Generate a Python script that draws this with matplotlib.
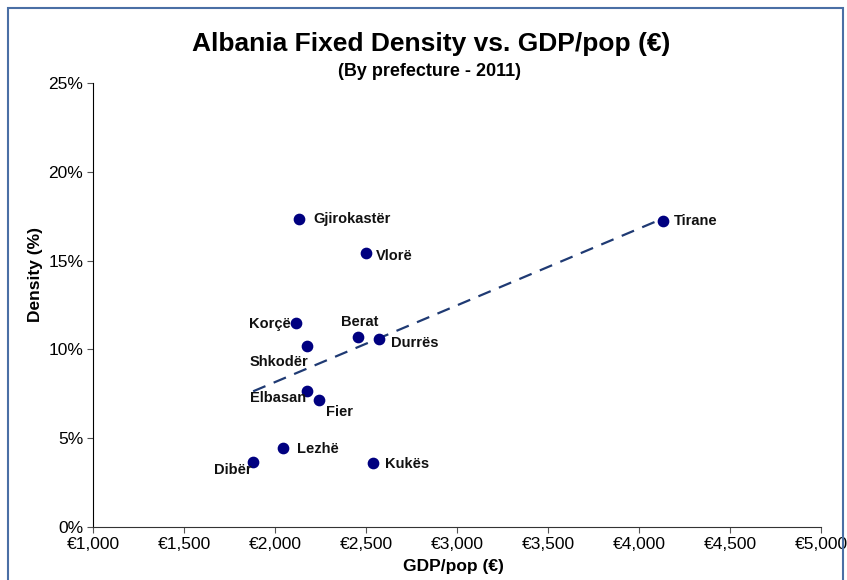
import numpy as np
import matplotlib.pyplot as plt
from matplotlib.patches import Rectangle
from matplotlib.ticker import FuncFormatter

plt.rcParams['font.family'] = ['Liberation Sans', 'DejaVu Sans']

# GDP per head (EUR) and fixed broadband density (%) by prefecture, 2011
prefectures = ["Tirane", "Gjirokastër", "Vlorë", "Korçë", "Shkodër", "Berat",
               "Durrës", "Elbasan", "Fier", "Lezhë", "Dibër", "Kukës"]
gdp_pop = [4131, 2133, 2502, 2117, 2177, 2458, 2574, 2177, 2243, 2045, 1880, 2541]
density = [17.22, 17.33, 15.42, 11.48, 10.19, 10.69, 10.58, 7.65, 7.15, 4.45, 3.66, 3.60]

# label placement (pixel offsets from each point, alignment)
label_pos = {
    "Tirane": (11, 0, "left", "center"),
    "Gjirokastër": (14, 0, "left", "center"),
    "Vlorë": (10, -3, "left", "center"),
    "Korçë": (-6, -1, "right", "center"),
    "Shkodër": (1, -16, "right", "center"),
    "Berat": (1, 15, "center", "center"),
    "Durrës": (12, -4, "left", "center"),
    "Elbasan": (-1, -7, "right", "center"),
    "Fier": (7, -12, "left", "center"),
    "Lezhë": (14, -1, "left", "center"),
    "Dibër": (-2, -8, "right", "center"),
    "Kukës": (12, -1, "left", "center"),
}

W, H = 847, 580
fig = plt.figure(figsize=(W / 100, H / 100), dpi=100)
ax = fig.add_axes([93 / W, 1 - 527 / H, 728 / W, 444 / H])

# chart frame
fig.patches.append(Rectangle((8 / W, -0.05), 835 / W, 1 - 8 / H + 0.05,
                             transform=fig.transFigure, fill=False,
                             edgecolor="#4a6fa5", linewidth=1.5))

x = np.array(gdp_pop, dtype=float)
y = np.array(density)

# linear trend over the data range
k, b = np.polyfit(x, y, 1)
xt = np.array([x.min(), x.max()])
ax.plot(xt, k * xt + b, color="#1f3a73", linewidth=1.6, dashes=(6, 4), zorder=2)

ax.scatter(x, y, s=55, color="#000080", zorder=3)

for name, gx, dy in zip(prefectures, x, y):
    ox, oy, ha, va = label_pos[name]
    ax.annotate(name, (gx, dy), xytext=(ox, oy), textcoords="offset pixels",
                ha=ha, va=va, fontsize=10.5, fontweight="bold", color="#111111")

ax.set_xlim(1000, 5000)
ax.set_ylim(0, 25)
ax.set_xticks(np.arange(1000, 5001, 500))
ax.set_yticks(np.arange(0, 26, 5))
ax.xaxis.set_major_formatter(FuncFormatter(lambda v, p: f"€{v:,.0f}"))
ax.yaxis.set_major_formatter(FuncFormatter(lambda v, p: f"{v:.0f}%"))
ax.tick_params(axis="both", labelsize=12.5, length=4, width=0.8, color="#555555")
ax.tick_params(axis="x", pad=3)
ax.tick_params(axis="y", pad=3)

for side in ("top", "right"):
    ax.spines[side].set_visible(False)
ax.spines["left"].set_color("#000000")
ax.spines["bottom"].set_color("#333333")

fig.text(453 / W, 1 - 566 / H, "GDP/pop (€)", ha="center", va="center",
         fontsize=12.5, fontweight="bold")
fig.text(35 / W, 1 - 275 / H, "Density (%)", ha="center", va="center",
         rotation=90, fontsize=12.5, fontweight="bold")

fig.text(431 / W, 1 - 44 / H, "Albania Fixed Density vs. GDP/pop (€)", ha="center",
         va="center", fontsize=19, fontweight="bold")
fig.text(429 / W, 1 - 72 / H, "(By prefecture - 2011)", ha="center", va="center",
         fontsize=13, fontweight="bold")

fig.savefig("out.png", dpi=100)
